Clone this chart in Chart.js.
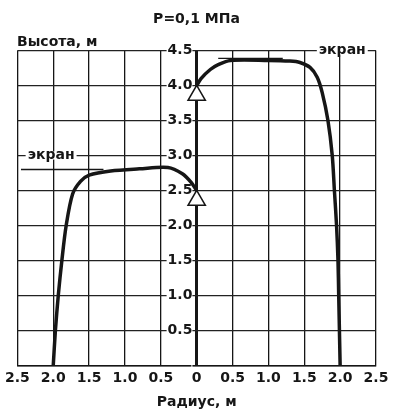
<!DOCTYPE html>
<html>
<head>
<meta charset="utf-8">
<style>
  html, body { margin: 0; padding: 0; background: #fff; }
  #wrap { width: 395px; height: 414px; }
</style>
<script src="https://cdn.jsdelivr.net/npm/chart.js"></script>
</head>
<body>
<div id="wrap"><canvas id="chart"></canvas></div>
<script>
// flame profile on the left side (radius is negative here, shown as abs)
const leftRadius = [-2.0, -1.97, -1.93, -1.88, -1.82, -1.73, -1.62, -1.5, -1.2, -0.8, -0.4, -0.2, -0.08, 0];
const leftHeight = [0, 0.5, 1.0, 1.5, 2.0, 2.45, 2.63, 2.72, 2.78, 2.81, 2.83, 2.74, 2.62, 2.5];

// flame profile on the right side
const rightRadius = [0, 0.06, 0.19, 0.3, 0.47, 1.0, 1.3, 1.44, 1.58, 1.68, 1.75, 1.83, 1.89, 1.92, 1.95, 1.97, 1.98, 2.0];
const rightHeight = [4.0, 4.1, 4.23, 4.3, 4.36, 4.36, 4.35, 4.33, 4.26, 4.12, 3.9, 3.5, 3.0, 2.5, 2.0, 1.5, 1.0, 0];

// screen levels
const leftScreenRadius = [-2.45, -1.3];
const leftScreenHeight = [2.8, 2.8];
const rightScreenRadius = [0.3, 1.2];
const rightScreenHeight = [4.39, 4.39];

// source markers on the axis
const sourceRadius = [0, 0];
const sourceHeight = [3.86, 2.36];

// axis ticks
const xTicks = [-2.5, -2.0, -1.5, -1.0, -0.5, 0, 0.5, 1.0, 1.5, 2.0, 2.5];
const yTicks = [0, 0.5, 1.0, 1.5, 2.0, 2.5, 3.0, 3.5, 4.0, 4.5];

const screenLabel = 'экран';
const ink = '#161616';
const fontFamily = '"DejaVu Sans", sans-serif';
const textFont = { family: fontFamily, size: 14, weight: 'bold' };

function pts(xs, ys) {
    return xs.map((x, i) => ({ x: x, y: ys[i] }));
}

// "экран" captions sitting on grid lines
const screenCaptions = {
    id: 'screenCaptions',
    afterDraw(chart) {
        const ctx = chart.ctx;
        const xs = chart.scales.x, ys = chart.scales.y;
        ctx.save();
        ctx.font = 'bold 14px ' + fontFamily;
        ctx.textAlign = 'center';
        ctx.textBaseline = 'middle';
        [[-2.03, 3.0], [2.03, 4.5]].forEach(p => {
            const px = xs.getPixelForValue(p[0]);
            const py = ys.getPixelForValue(p[1]);
            const w = ctx.measureText(screenLabel).width;
            ctx.fillStyle = '#fff';
            ctx.fillRect(px - w / 2 - 2, py - 4, w + 4, 8);
            ctx.fillStyle = ink;
            ctx.fillText(screenLabel, px, py);
        });
        ctx.restore();
    }
};

new Chart(document.getElementById('chart'), {
    type: 'scatter',
    data: {
        datasets: [
            {
                data: pts(sourceRadius, sourceHeight),
                pointStyle: 'triangle',
                pointRadius: 10,
                backgroundColor: '#fff',
                borderColor: ink,
                borderWidth: 1.5,
                order: 0
            },
            {
                data: pts(leftRadius, leftHeight),
                showLine: true,
                tension: 0.3,
                borderColor: ink,
                borderWidth: 3.5,
                pointRadius: 0,
                order: 1
            },
            {
                data: pts(rightRadius, rightHeight),
                showLine: true,
                tension: 0.3,
                borderColor: ink,
                borderWidth: 3.5,
                pointRadius: 0,
                order: 1
            },
            {
                data: pts(leftScreenRadius, leftScreenHeight),
                showLine: true,
                borderColor: ink,
                borderWidth: 1.3,
                pointRadius: 0,
                order: 2
            },
            {
                data: pts(rightScreenRadius, rightScreenHeight),
                showLine: true,
                borderColor: ink,
                borderWidth: 1.3,
                pointRadius: 0,
                order: 2
            }
        ]
    },
    options: {
        responsive: true,
        maintainAspectRatio: false,
        animation: false,
        layout: { padding: { left: 17, right: 19, top: 6, bottom: 0 } },
        plugins: {
            legend: { display: false },
            tooltip: { enabled: false },
            title: {
                display: true,
                text: 'P=0,1 МПа',
                color: ink,
                font: textFont,
                padding: { top: 5, bottom: 3 }
            },
            subtitle: {
                display: true,
                text: 'Высота, м',
                align: 'start',
                color: ink,
                font: textFont,
                padding: { top: 3, bottom: 0 }
            }
        },
        scales: {
            x: {
                type: 'linear',
                position: 'bottom',
                min: -2.5,
                max: 2.5,
                afterBuildTicks: s => { s.ticks = xTicks.map(v => ({ value: v })); },
                ticks: {
                    autoSkip: false,
                    maxRotation: 0,
                    padding: 5,
                    color: ink,
                    font: textFont,
                    callback: v => v === 0 ? '0' : Math.abs(v).toFixed(1)
                },
                // the line at zero radius is the height axis, drawn heavier
                grid: {
                    color: ink,
                    lineWidth: c => (c.tick && c.tick.value === 0) ? 3 : 1.3,
                    drawTicks: false
                },
                border: { display: true, color: ink, width: 1.5 },
                title: {
                    display: true,
                    text: 'Радиус, м',
                    color: ink,
                    font: textFont,
                    padding: { top: 2, bottom: 3 }
                }
            },
            y: {
                type: 'linear',
                // labels sit just left of the zero-radius line
                position: { x: -0.06 },
                min: 0,
                max: 4.5,
                afterBuildTicks: s => { s.ticks = yTicks.map(v => ({ value: v })); },
                ticks: {
                    color: ink,
                    font: textFont,
                    showLabelBackdrop: true,
                    backdropColor: '#fff',
                    backdropPadding: { top: 0, bottom: 0, left: 1, right: 0 },
                    callback: v => v === 0 ? '' : v.toFixed(1)
                },
                grid: { color: '#222', lineWidth: 1.3, drawTicks: false },
                border: { display: false }
            }
        }
    },
    plugins: [screenCaptions]
});
</script>
</body>
</html>
